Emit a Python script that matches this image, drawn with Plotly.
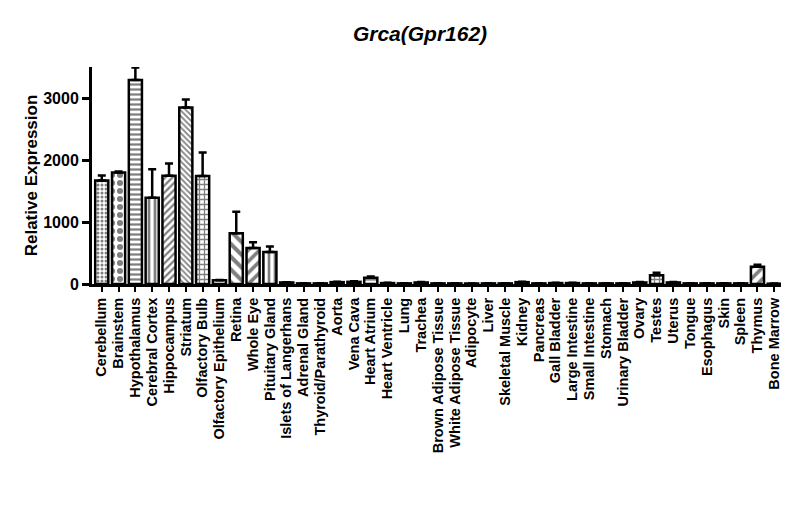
import plotly.graph_objects as go

# tissues, mean expression and upper error (SEM)
tissues = ["Cerebellum", "Brainstem", "Hypothalamus", "Cerebral Cortex", "Hippocampus",
           "Striatum", "Olfactory Bulb", "Olfactory Epithelium", "Retina", "Whole Eye",
           "Pituitary Gland", "Islets of Langerhans", "Adrenal Gland", "Thyroid/Parathyroid",
           "Aorta", "Vena Cava", "Heart Atrium", "Heart Ventricle", "Lung", "Trachea",
           "Brown Adipose Tissue", "White Adipose Tissue", "Adipocyte", "Liver",
           "Skeletal Muscle", "Kidney", "Pancreas", "Gall Bladder", "Large Intestine",
           "Small Intestine", "Stomach", "Urinary Bladder", "Ovary", "Testes", "Uterus",
           "Tongue", "Esophagus", "Skin", "Spleen", "Thymus", "Bone Marrow"]
expression = [1670, 1800, 3290, 1390, 1745, 2845, 1740, 60, 820, 580,
              515, 25, 10, 10, 30, 35, 100, 15, 10, 25,
              10, 10, 8, 10, 10, 30, 10, 15, 15, 10,
              10, 10, 25, 140, 25, 10, 10, 10, 10, 280, 5]
error_up = [80, 15, 200, 460, 200, 130, 380, 5, 345, 95,
            90, 5, 3, 3, 8, 10, 20, 4, 3, 6,
            3, 3, 2, 3, 3, 8, 3, 4, 4, 3,
            3, 3, 6, 40, 6, 3, 3, 3, 3, 30, 2]

# hatch styles, one per bar (GraphPad-like fills)
shapes = [".", ".", "-", "|", "/", "\\", "+", "", "\\", "/", "|",
          ".", ".", "-", "|", "/", "-", "\\", "+", "", "\\",
          "/", "|", ".", ".", "-", "|", "/", "\\", "+", "",
          "\\", "/", "+", ".", ".", "-", "|", "/", "/", "+"]
sizes = [4, 8, 5, 6, 5, 4, 5, 6, 9, 8, 6,
         4, 8, 5, 6, 5, 5, 4, 5, 6, 9,
         8, 6, 4, 8, 5, 6, 5, 4, 5, 6,
         9, 8, 5, 4, 8, 5, 6, 5, 8, 5]

font = "Arial, Liberation Sans, sans-serif"

fig = go.Figure(go.Bar(
    x=tissues, y=expression,
    marker=dict(color="white", line=dict(color="black", width=2.5),
                pattern=dict(shape=shapes, size=sizes, solidity=0.45,
                             fgcolor="black", bgcolor="white")),
    error_y=dict(type="data", symmetric=False, array=error_up,
                 arrayminus=[0] * len(error_up),
                 color="black", thickness=2.5, width=4),
))

# the page body adds an 8px offset, so margins are shifted to compensate
fig.update_layout(
    width=800, height=522,
    paper_bgcolor="white", plot_bgcolor="white",
    margin=dict(l=84, r=27, t=59, b=246, autoexpand=False),
    bargap=0.22,
    showlegend=False,
    title=dict(text="<b><i>Grca(Gpr162)</i></b>", x=0.515, xanchor="center",
               y=0.95, yanchor="middle",
               font=dict(family=font, size=21, color="black")),
    xaxis=dict(range=[-0.58, 40.4], showline=True, linecolor="black", linewidth=3,
               tickmode="array", tickvals=tissues,
               ticktext=["<b>" + t + "</b>" for t in tissues],
               ticks="outside", ticklen=5, tickwidth=2, tickcolor="black",
               tickangle=-90, showgrid=False, zeroline=False,
               tickfont=dict(family=font, size=14.5, color="black"),
               automargin=False),
    yaxis=dict(range=[0, 3500], tickvals=[0, 1000, 2000, 3000],
               ticktext=["<b>0</b>", "<b>1000</b>", "<b>2000</b>", "<b>3000</b>"],
               showline=True, linecolor="black", linewidth=3,
               ticks="outside", ticklen=7, tickwidth=2.5, tickcolor="black",
               showgrid=False, zeroline=False,
               tickfont=dict(family=font, size=16, color="black"),
               title=dict(text="<b>Relative Expression</b>", standoff=2,
                          font=dict(family=font, size=17, color="black")),
               automargin=False),
)

fig.write_html("out.html")
